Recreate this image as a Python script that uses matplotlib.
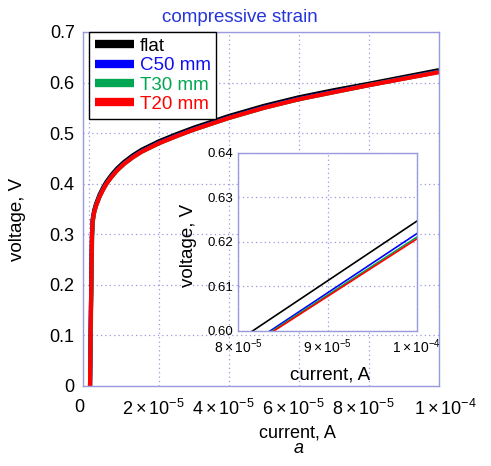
import numpy as np
import matplotlib
matplotlib.use("Agg")
import matplotlib.pyplot as plt
import matplotlib.transforms as mtransforms

plt.rcParams['font.family'] = ['Liberation Sans', 'DejaVu Sans']
plt.rcParams['mathtext.fontset'] = 'custom'
plt.rcParams['mathtext.rm'] = 'Liberation Sans'
plt.rcParams['mathtext.it'] = 'Liberation Sans:italic'

# ---- data (current in microamps, voltage in volts) ----
current_uA = [0.30, 0.55, 0.85, 1.05, 1.5, 2.0, 3.0, 4.0, 5.0, 6.5, 8.0, 10, 12.5, 15,
              20, 25, 30, 40, 50, 60, 70, 80, 90, 100]
v_flat = [0.000, 0.150, 0.300, 0.330, 0.348, 0.360, 0.378, 0.392, 0.404, 0.418, 0.430, 0.443,
          0.456, 0.467, 0.484, 0.498, 0.511, 0.534, 0.554, 0.571, 0.585, 0.5978, 0.6112, 0.6246]
v_c50 = [0.000, 0.148, 0.297, 0.327, 0.345, 0.357, 0.375, 0.389, 0.401, 0.415, 0.427, 0.440,
         0.453, 0.464, 0.481, 0.495, 0.508, 0.531, 0.551, 0.568, 0.582, 0.5952, 0.6085, 0.6218]
v_t30 = [0.000, 0.120, 0.270, 0.322, 0.343, 0.356, 0.374, 0.388, 0.400, 0.414, 0.426, 0.439,
         0.452, 0.463, 0.480, 0.494, 0.507, 0.530, 0.550, 0.567, 0.581, 0.5950, 0.6080, 0.6210]
v_t20 = [0.000, 0.146, 0.296, 0.326, 0.344, 0.356, 0.374, 0.388, 0.400, 0.414, 0.426, 0.439,
         0.452, 0.463, 0.480, 0.494, 0.507, 0.530, 0.550, 0.567, 0.581, 0.5948, 0.6077, 0.6206]

series_names = ["flat", "C50 mm", "T30 mm", "T20 mm"]
line_colors = ["#000000", "#0000ff", "#00a651", "#ff0000"]
text_colors = ["#000000", "#1010ee", "#00a651", "#ff0000"]

main_xticks = [0, 2e-5, 4e-5, 6e-5, 8e-5, 1e-4]
main_xlabels = ["0", r"$2\times10^{-5}$", r"$4\times10^{-5}$", r"$6\times10^{-5}$",
                r"$8\times10^{-5}$", r"$1\times10^{-4}$"]
main_yticks = [0, 0.1, 0.2, 0.3, 0.4, 0.5, 0.6, 0.7]
main_ylabels = ["0", "0.1", "0.2", "0.3", "0.4", "0.5", "0.6", "0.7"]
inset_xticks = [8e-5, 9e-5, 1e-4]
inset_xlabels = [r"$8\times10^{-5}$", r"$9\times10^{-5}$", r"$1\times10^{-4}$"]
inset_yticks = [0.60, 0.61, 0.62, 0.63, 0.64]
inset_ylabels = ["0.60", "0.61", "0.62", "0.63", "0.64"]

current = np.array(current_uA) * 1e-6
volts = [v_flat, v_c50, v_t30, v_t20]

frame_col = "#9a9ade"
W, H = 491, 466
fig = plt.figure(figsize=(W / 100, H / 100), dpi=100)

def fx(px):
    return px / W

def fy(py):
    return 1 - py / H

# ---- main axes ----
L, R, T, B = 83, 439, 32, 386
ax = fig.add_axes([fx(L), fy(B), (R - L) / W, (B - T) / H])
ax.set_xlim(-1.71e-6, 1e-4)
ax.set_ylim(0, 0.7)
for v, c, n in zip(volts, line_colors, series_names):
    ax.plot(current, v, color=c, lw=3.0, label=n, solid_capstyle='butt')
ax.set_xticks(main_xticks, main_xlabels, fontsize=13)
ax.set_yticks(main_yticks, main_ylabels, fontsize=13)
ax.tick_params(length=0, pad=6)
ax.tick_params(axis='x', pad=9)
ax.grid(True, color=frame_col, ls=(0, (1, 2.5)), lw=0.9)
for s in ax.spines.values():
    s.set_color(frame_col)
    s.set_linewidth(1.0)
ax.set_ylabel("voltage, V", fontsize=13.5)
ax.yaxis.set_label_coords((26 - L) / (R - L), (B - 219) / (B - T))

# small horizontal shifts of the x tick labels as in the reference
label_shifts_px = [-10, -6, -6, -6, -6, 6]
for lab, dx in zip(ax.get_xticklabels(), label_shifts_px):
    lab.set_transform(lab.get_transform() +
                      mtransforms.ScaledTranslation(dx / 100, 0, fig.dpi_scale_trans))

leg = ax.legend(loc='upper left', bbox_to_anchor=(0.017, 1.0), borderaxespad=0,
                fontsize=13.5, frameon=True, fancybox=False, framealpha=1,
                edgecolor='black', handlelength=2.1, handletextpad=0.3,
                labelspacing=0.12, borderpad=0.3)
leg.get_frame().set_linewidth(1.0)
for line in leg.get_lines():
    line.set_linewidth(6)
for t, c in zip(leg.get_texts(), text_colors):
    t.set_color(c)

fig.text(fx(240), fy(17), "compressive strain", color="#2536d8", fontsize=13.5,
         ha='center', va='center')
fig.text(fx(297), fy(437), "current, A", fontsize=13, ha='center', va='baseline')
fig.text(fx(299), fy(453), "a", fontsize=13, style='italic', ha='center', va='baseline')

# ---- inset axes ----
iL, iR, iT, iB = 238.3, 416.7, 152.7, 330.7
ax2 = fig.add_axes([fx(iL), fy(iB), (iR - iL) / W, (iB - iT) / H])
ax2.set_facecolor('white')
ax2.set_xlim(8e-5, 1e-4)
ax2.set_ylim(0.60, 0.64)
for v, c in zip(volts, line_colors):
    ax2.plot(current, v, color=c, lw=1.2)
ax2.set_xticks(inset_xticks, inset_xlabels, fontsize=10)
ax2.set_yticks(inset_yticks, inset_ylabels, fontsize=9.5)
ax2.tick_params(length=0, pad=3.5)
ax2.tick_params(axis='x', pad=5)
ax2.grid(True, color=frame_col, ls=(0, (1, 2.5)), lw=0.9)
for s in ax2.spines.values():
    s.set_color(frame_col)
    s.set_linewidth(1.0)
ax2.set_xlabel("current, A", fontsize=13.5)
ax2.xaxis.set_label_coords((330 - iL) / (iR - iL), (iB - 366.7) / (iB - iT))
ax2.set_ylabel("voltage, V", fontsize=13.5)
ax2.yaxis.set_label_coords((197 - iL) / (iR - iL), (iB - 245) / (iB - iT))

fig.savefig("out.png", dpi=100)
